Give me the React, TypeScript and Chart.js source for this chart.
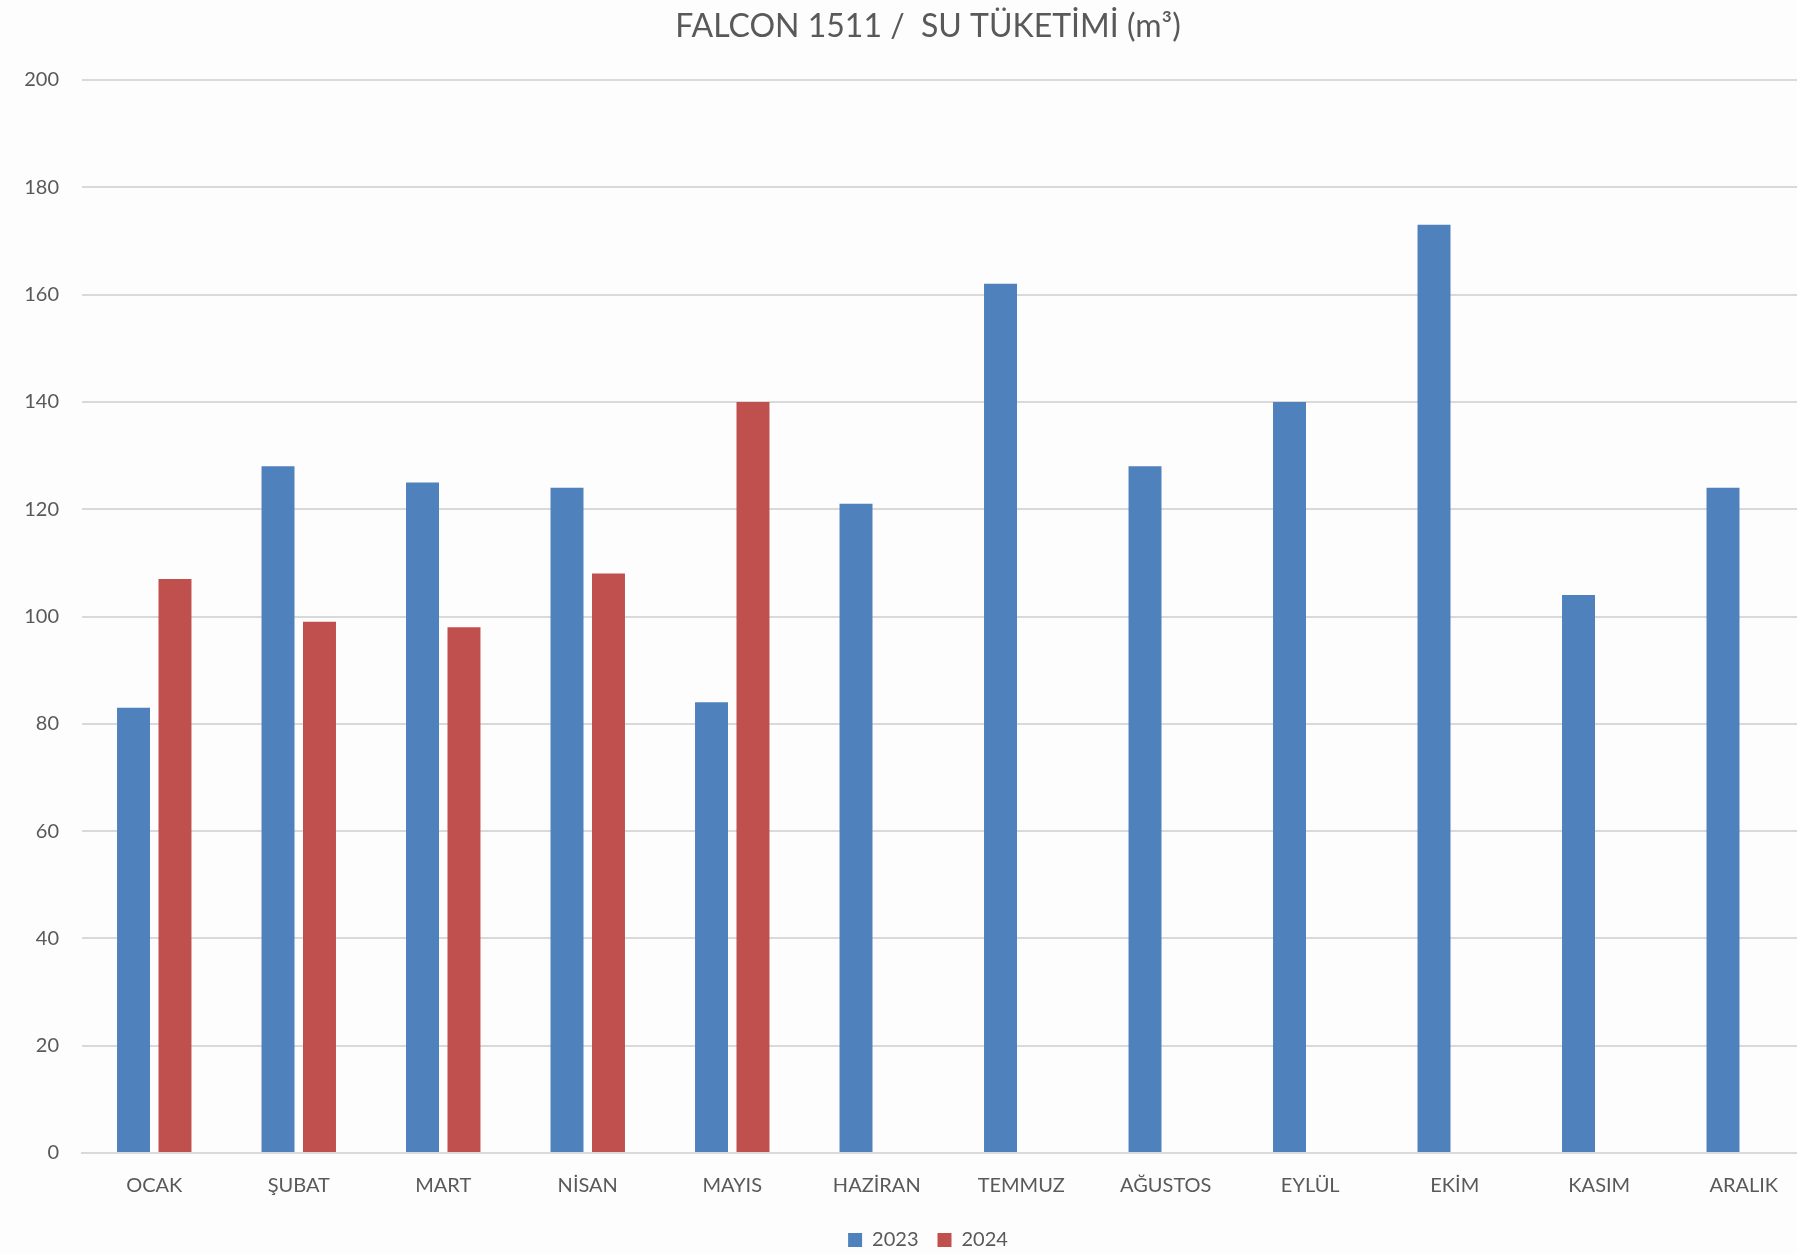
import React, { useEffect, useRef } from "react";
import { Chart, registerables } from "chart.js";

Chart.register(...registerables);

const categories = ["OCAK", "ŞUBAT", "MART", "NİSAN", "MAYIS", "HAZİRAN", "TEMMUZ", "AĞUSTOS", "EYLÜL", "EKİM", "KASIM", "ARALIK"];
const series2023 = [83, 128, 125, 124, 84, 121, 162, 128, 140, 173, 104, 124];
const series2024 = [107, 99, 98, 108, 140, null, null, null, null, null, null, null];
const seriesLabels = ["2023", "2024"];
const titleText = "FALCON 1511 /  SU TÜKETİMİ (m³)";
const yMin = 0;
const yMax = 200;
const yStep = 20;

const W = 1850;
const H = 1268;
const FONT = "Lato, 'Open Sans', sans-serif";
const TEXT = "#595959";

const bgPlugin = {
  id: "bg",
  beforeDraw(chart: any) {
    const { ctx } = chart;
    ctx.save();
    ctx.fillStyle = "#fefdfd";
    ctx.fillRect(0, 0, chart.width, chart.height);
    ctx.restore();
  },
};

// shift title and legend boxes to be centred a little right (as in the original)
const shiftPlugin = {
  id: "shiftBoxes",
  afterLayout(chart: any) {
    const dx = 20;
    if (chart.titleBlock) {
      chart.titleBlock.left += dx;
      chart.titleBlock.right += dx;
    }
    if (chart.legend) {
      chart.legend.left += dx;
      chart.legend.right += dx;
    }
  },
};

export default function App() {
  const ref = useRef<HTMLCanvasElement | null>(null);
  useEffect(() => {
    if (!ref.current) return;
    const chart = new Chart(ref.current, {
      type: "bar",
      data: {
        labels: categories,
        datasets: [
          { label: seriesLabels[0], data: series2023, backgroundColor: "#4f81bd", categoryPercentage: 0.574, barPercentage: 0.795 },
          { label: seriesLabels[1], data: series2024, backgroundColor: "#c0504d", categoryPercentage: 0.574, barPercentage: 0.795 },
        ],
      },
      plugins: [bgPlugin, shiftPlugin],
      options: {
        responsive: false,
        animation: false,
        layout: { padding: { left: 0, right: 34, top: 0, bottom: 8 } },
        plugins: {
          title: {
            display: true,
            text: titleText,
            color: TEXT,
            font: { family: FONT, size: 32, weight: "normal" },
            padding: { top: 7, bottom: 34.6 },
          },
          legend: {
            display: true,
            position: "bottom",
            labels: {
              color: TEXT,
              font: { family: FONT, size: 20 },
              boxWidth: 14,
              boxHeight: 14,
              padding: 19,
            },
          },
          tooltip: { enabled: false },
        },
        scales: {
          x: {
            grid: { display: false },
            border: { display: true, color: "#d9d9d9", width: 2 },
            ticks: { color: TEXT, font: { family: FONT, size: 20 }, padding: 13, maxRotation: 0, autoSkip: false },
            afterFit: (scale: any) => { scale.height = 58; },
          },
          y: {
            min: yMin,
            max: yMax,
            ticks: { stepSize: yStep, color: TEXT, font: { family: FONT, size: 20 }, padding: 23 },
            grid: { color: "#d9d9d9", lineWidth: 2, drawTicks: false },
            border: { display: false },
            afterFit: (scale: any) => { scale.width = 82; },
          },
        },
      },
    });
    return () => chart.destroy();
  }, []);
  return (
    <div style={{ position: "fixed", left: 0, top: 0, width: "100vw", height: "100vh", overflow: "hidden", background: "#fefdfd" }}>
      <canvas ref={ref} width={W} height={H} style={{ width: W + "px", height: H + "px", display: "block" }} />
    </div>
  );
}
